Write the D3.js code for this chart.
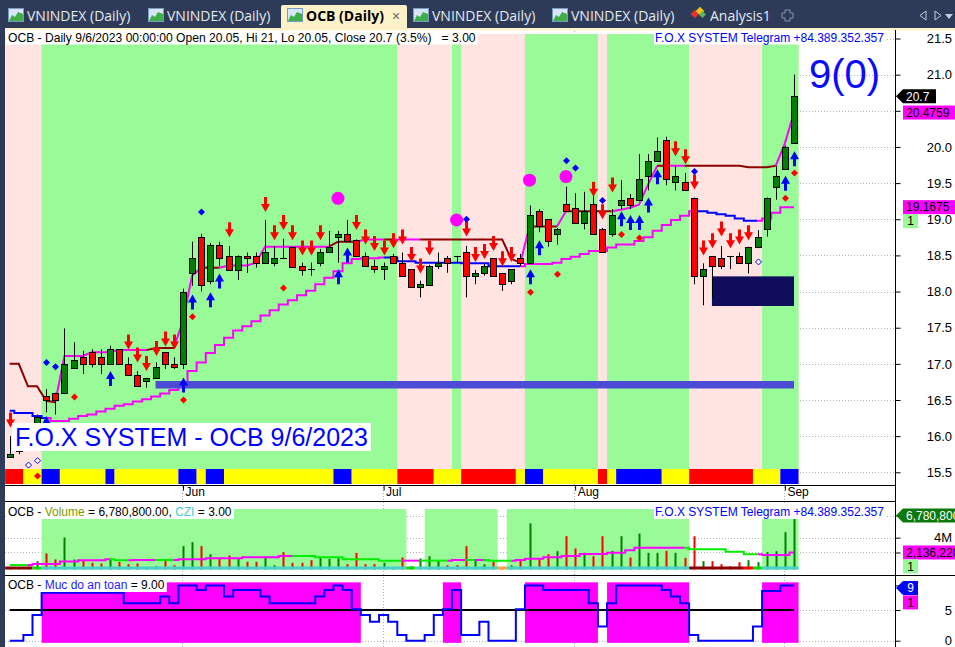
<!DOCTYPE html>
<html>
<head>
<meta charset="utf-8">
<title>OCB (Daily)</title>
<script src="https://cdn.jsdelivr.net/npm/d3@7"></script>
<style>
  body { margin: 0; background: #fff; overflow: hidden; }
  svg { display: block; font-family: Arial, "Liberation Sans", sans-serif; }
  .pre { white-space: pre; }
</style>
</head>
<body>
<svg id="chart" width="955" height="647"></svg>
<script>
// ---- data (one entry per trading day, May 4 .. Sep 6 2023) ----
var opens = [15.71,15.8,15.85,16.0,16.56,16.6,16.6,16.94,17.1,17.16,
  17.1,17.0,17.2,17.0,16.85,16.76,16.8,17.16,17.0,17.0,
  18.25,18.75,18.15,18.64,18.49,18.3,18.49,18.49,18.4,18.4,
  18.46,18.61,18.35,18.31,18.4,18.55,18.75,18.8,18.71,18.49,
  18.35,18.31,18.49,18.4,18.31,18.06,18.09,18.35,18.46,18.49,
  18.55,18.21,18.25,18.46,18.25,18.15,18.46,18.4,19.11,19.0,
  18.8,19.21,19.15,18.95,19.21,18.86,18.8,19.2,19.3,19.26,
  19.6,19.8,20.1,19.51,19.51,19.3,18.21,18.49,18.46,18.49,
  18.49,18.4,18.61,18.86,19.44,19.7,20.05];
var highs = [16.0,15.9,16.05,16.3,16.65,16.6,17.49,17.3,17.18,17.2,
  17.2,17.25,17.2,17.09,16.9,16.8,17.02,17.16,17.09,18.04,
  18.69,18.8,18.67,18.69,18.63,18.5,18.54,18.54,18.99,18.63,
  18.73,18.61,18.4,18.4,18.59,18.84,18.84,18.99,18.72,18.54,
  18.44,18.4,18.52,18.54,18.31,18.15,18.37,18.54,18.49,18.49,
  18.63,18.3,18.38,18.46,18.25,18.31,18.52,19.19,19.14,19.0,
  18.88,19.45,19.36,19.38,19.32,18.88,19.14,19.54,19.35,19.9,
  19.9,20.13,20.14,19.74,19.64,19.3,18.39,18.49,18.63,18.49,
  18.54,18.62,18.85,19.3,19.74,20.02,21.0];
var lows = [15.7,15.75,15.8,15.95,16.33,16.3,16.58,16.93,16.86,16.95,
  16.86,17.0,17.0,16.85,16.7,16.67,16.8,16.93,16.93,16.93,
  18.08,18.0,18.1,18.35,18.3,18.16,18.26,18.33,18.4,18.35,
  18.46,18.34,18.22,18.22,18.35,18.55,18.4,18.7,18.48,18.35,
  18.26,18.16,18.38,18.21,18.06,17.92,18.09,18.31,18.26,18.4,
  17.92,18.1,18.22,18.21,18.01,18.1,18.35,18.4,18.82,18.62,
  18.65,19.1,18.95,18.86,18.8,18.55,18.76,19.14,19.14,19.25,
  19.4,19.8,19.47,19.4,19.4,18.1,17.81,17.92,18.31,18.31,
  18.38,18.25,18.6,18.76,19.27,19.68,20.05];
var closes = [15.75,15.85,16.0,16.26,16.5,16.5,17.0,17.05,17.0,17.0,
  17.0,17.2,17.0,16.85,16.7,16.8,16.95,17.0,16.95,18.0,
  18.46,18.09,18.64,18.46,18.3,18.49,18.46,18.4,18.55,18.46,
  18.46,18.34,18.3,18.31,18.55,18.61,18.8,18.7,18.49,18.35,
  18.31,18.35,18.4,18.21,18.06,18.1,18.35,18.4,18.4,18.49,
  18.21,18.25,18.35,18.21,18.1,18.31,18.4,19.06,18.9,18.7,
  18.86,19.11,18.95,19.11,18.8,18.55,19.06,19.26,19.2,19.55,
  19.8,19.95,19.55,19.6,19.4,18.21,18.31,18.35,18.35,18.49,
  18.4,18.61,18.75,19.3,19.6,20.0,20.7];
// volume in millions of shares
var volumes = [0.3,0.3,0.35,1.05,2.01,1.26,4.02,1.26,1.17,0.84,
  0.75,1.26,0.96,0.67,0.75,0.33,0.42,1.30,0.54,2.93,
  3.43,2.93,1.92,1.51,1.76,1.42,0.96,0.96,1.67,0.54,
  2.18,0.84,0.84,1.17,1.59,1.34,1.42,0.67,2.09,0.67,
  0.67,0.84,0.21,1.51,0.42,1.38,1.67,1.17,0.54,0.54,
  2.93,1.17,0.67,0.96,0.25,0.54,1.26,5.79,1.38,1.92,
  2.30,4.18,2.64,2.09,1.67,4.18,2.34,4.18,1.51,4.52,
  2.09,2.09,2.34,2.09,1.46,4.18,1.05,1.05,0.67,0.42,
  0.92,1.17,0.92,2.18,2.30,4.69,6.7808];
var volMA = [0.56,0.56,0.56,0.7,0.7,0.7,1.0,1.0,1.15,1.15,
  1.15,1.28,1.15,1.15,1.19,1.19,1.19,1.19,1.19,1.28,
  1.28,1.28,1.40,1.40,1.40,1.40,1.53,1.53,1.53,1.53,
  1.69,1.69,1.69,1.69,1.53,1.53,1.53,1.28,1.28,1.28,
  1.28,1.11,1.11,1.11,1.11,1.11,1.11,1.11,1.11,1.19,
  1.19,1.19,1.19,1.11,1.11,1.11,1.19,1.36,1.36,1.53,
  1.53,1.69,1.69,1.95,1.95,1.95,2.11,2.11,2.41,2.74,
  2.74,2.74,2.74,2.74,2.74,2.53,2.53,2.53,2.53,2.24,
  2.24,1.9,1.9,1.82,1.82,1.82,2.13622];
var volMAState = "gggmmmmmmm mmggmmmggm mmmmmmmmmm mmgggggggg ggggmmgggm mgmgggmmmm mmmmmmmmmm mmmmmggggg gggmmmm".replace(/ /g, "").split("");
var upperLine = [17.0,17.0,16.69,16.69,16.49,16.47,17.11,17.11,17.11,17.16,
  17.16,17.16,17.19,17.19,17.19,17.19,17.22,17.22,17.22,17.6,
  18.22,18.33,18.33,18.33,18.36,18.36,18.36,18.40,18.62,18.62,
  18.62,18.62,18.62,18.62,18.62,18.62,18.69,18.69,18.69,18.72,
  18.72,18.72,18.72,18.72,18.72,18.72,18.72,18.72,18.72,18.72,
  18.72,18.72,18.72,18.72,18.72,18.45,18.40,18.90,18.90,18.90,
  18.90,19.11,19.11,19.11,19.11,19.11,19.11,19.13,19.16,19.2,
  19.48,19.74,19.74,19.74,19.74,19.74,19.74,19.74,19.74,19.74,
  19.74,19.72,19.72,19.72,19.74,20.05,20.4759];
var upperState = "rrrrrrmmmm mmmmmmrrrm mmrrmmmmmm mmmmmmrrrm mmrmmmrrrr rrrrrrrmrr rmrrrrrmmm mmrmmrrrrr rrrrrmm".replace(/ /g, "").split("");
var lowerLine = [16.35,16.32,16.32,16.28,16.25,16.21,16.21,16.24,16.28,16.30,
  16.34,16.38,16.42,16.44,16.48,16.51,16.55,16.59,16.64,16.72,
  16.90,17.02,17.15,17.26,17.36,17.46,17.52,17.59,17.67,17.74,
  17.82,17.88,17.95,18.01,18.10,18.19,18.28,18.39,18.45,18.46,
  18.46,18.47,18.47,18.42,18.42,18.40,18.40,18.40,18.40,18.40,
  18.39,18.39,18.39,18.35,18.35,18.35,18.35,18.38,18.38,18.38,
  18.40,18.45,18.48,18.52,18.56,18.56,18.61,18.65,18.65,18.70,
  18.75,18.84,18.92,18.99,19.05,19.11,19.11,19.09,19.07,19.05,
  19.01,18.98,18.98,19.01,19.09,19.1675,19.1675];
var lowerState = "bbbbbmmmmm mmmmmmmmmm mmmmmmmmmm mmmmmmmmmm mmbbbbbbbb bbbbbbbmmm mmmmmmmmmm mmmmmmbbbb bbbmmmm".replace(/ /g, "").split("");
var safety = [0,0,0.93,4.2,7.8,7.8,7.8,7.8,7.8,7.8,
  7.8,7.8,7.8,6.1,6.1,6.1,6.1,7.2,6.1,9,
  9,8.26,9,9,7.2,8.26,8.26,8.26,7.2,6.1,
  6.1,6.1,6.1,6.1,7.2,8.26,9,8.26,5.1,4.2,
  3.1,4.2,3.1,0.93,0,0,0.93,4.2,5.1,8.26,
  0.93,0.93,3.1,0,0,0,5.1,9,9,8.26,
  8.26,8.26,8.26,8.26,6.1,2.3,6.1,9,9,9,
  9,9,8.26,7.2,6.1,0.93,0,0,0,0,
  0,0,2.3,8.1,8.1,9,9];

// zones: [first bar, last bar]
var priceGreenZones = [[4, 42], [49, 49], [57, 64], [66, 74], [83, 86]];
var volGreenZones = [[4, 43], [46, 53], [55, 74], [83, 86]];
var safeZones = [[4, 38], [48, 49], [57, 64], [66, 74], [83, 86]];
var signalRuns = [[0,1,"r"],[2,3,"y"],[4,5,"b"],[6,10,"y"],[11,11,"b"],[12,18,"y"],[19,20,"b"],
  [21,21,"y"],[22,23,"b"],[24,35,"y"],[36,37,"b"],[38,42,"y"],[43,46,"r"],[47,49,"y"],[50,55,"r"],
  [56,56,"y"],[57,58,"b"],[59,64,"y"],[65,65,"r"],[66,66,"y"],[67,71,"b"],[72,74,"y"],[75,81,"r"],
  [82,84,"y"],[85,86,"b"]];
var volBaseRuns = [[0,2,"d"],[3,3,"g"],[4,43,"c"],[44,44,"g"],[45,53,"c"],[54,54,"o"],[55,74,"c"],
  [75,80,"d"],[81,81,"r"],[82,82,"g"],[83,86,"c"]];

// signals: [bar, price]
var sellArrows = [[0,16.12],[13,17.20],[14,17.02],[15,16.90],[16,17.11],[17,17.24],[18,17.20],[24,18.75],
  [28,19.10],[29,18.71],[30,18.85],[31,18.71],[32,18.50],[33,18.50],[34,18.71],[38,18.85],[39,18.65],
  [40,18.56],[41,18.50],[42,18.60],[43,18.65],[44,18.41],[45,18.25],[46,18.50],[50,18.76],[51,18.41],
  [52,18.45],[53,18.56],[54,18.35],[55,18.41],[64,19.31],[65,19.0],[66,19.37],[73,19.87],[74,19.76],
  [75,19.41],[76,18.50],[77,18.60],[78,18.76],[79,18.60],[80,18.65],[81,18.71]];
var buyArrows = [[4,16.28],[11,16.90],[19,16.81],[20,17.96],[22,17.99],[23,18.25],[36,18.31],[37,18.61],
  [57,18.31],[58,18.71],[67,19.11],[68,19.06],[69,19.06],[70,19.30],[71,19.69],[85,19.60],[86,19.94]];
var redDots = [[3,15.45],[7,16.54],[19,16.50],[20,17.65],[30,18.05],[57,17.99],[60,18.24],[67,18.79],
  [69,18.74],[85,19.29],[86,19.64]];
var blueDots = [[4,17.02],[5,16.96],[21,19.10],[50,19.0],[61,19.81],[62,19.71],[65,19.26],[75,19.66]];
var hollowDots = [[2,15.60],[3,15.66],[82,18.41]];
var bigDots = [[36,19.29],[49,18.99],[57,19.54],[61,19.59]];
var supportBars = [16, 86], supportPrice = 16.71;
var boxBars = [77, 86], boxPrices = [17.80, 18.21];

var priceTicks = [15.5,16.0,16.5,17.0,17.5,18.0,18.5,19.0,19.5,20.0,20.5,21.0,21.5];
var volTicks = [2.13622, 4, 6.7808];
var safeTicks = [0, 5, 9];
var monthLabels = ["Jun", "Jul", "Aug", "Sep"];
var monthBars = [19, 41, 62, 85];
var tabNames = ["VNINDEX (Daily)", "VNINDEX (Daily)", "OCB (Daily)", "VNINDEX (Daily)", "VNINDEX (Daily)", "Analysis1"];
var activeTab = 2;

// ---- drawing ----
var svg = d3.select("#chart");
var W = 955, H = 647, axisX = 895.5;
var x = d3.scaleLinear().domain([0, 86]).range([9.7, 794]);
var hw = (x(1) - x(0)) / 2;
var y = d3.scaleLinear().domain([15.5, 21.5]).range([472.3, 38.5]);
var yv = d3.scaleLinear().domain([0, 6.7808]).range([569.5, 515.5]);
var ys = d3.scaleLinear().domain([0, 9]).range([640.7, 585.4]);

var pink = "#ffe4e1", green = "#98fb98", magenta = "#ff00ff", blue = "#0000ff";
var stateColor = { r: "#ff0000", y: "#ffff00", b: "#0000ff", m: magenta, g: "#00e000",
  d: "#8b0000", c: "#48d1cc", o: "#ffa040" };

svg.append("rect").attr("width", W).attr("height", H).attr("fill", "#fff");

// tab bar
svg.append("rect").attr("width", W).attr("height", 28).attr("fill", "#2d3b58");
svg.append("rect").attr("y", 28).attr("width", W).attr("height", 2.5).attr("fill", "#fdf1c8");
svg.append("rect").attr("y", 28).attr("width", 5).attr("height", H - 28).attr("fill", "#2d3b58");
var tabIconX = [8, 148, 287, 413, 552, 691];
svg.append("rect").attr("x", 281).attr("y", 5).attr("width", 126).attr("height", 25)
  .attr("rx", 2).attr("fill", "#fdf1c8");
tabNames.forEach(function (name, i) {
  var ix = tabIconX[i];
  if (name === "Analysis1") {
    svg.append("rect").attr("x", ix + 1).attr("y", 11).attr("width", 6).attr("height", 6)
      .attr("transform", "rotate(45," + (ix + 4) + ",14)").attr("fill", "#e8322d");
    svg.append("rect").attr("x", ix + 6).attr("y", 8).attr("width", 6).attr("height", 6)
      .attr("transform", "rotate(45," + (ix + 9) + ",11)").attr("fill", "#f5c518");
    svg.append("rect").attr("x", ix + 9).attr("y", 12).attr("width", 5).attr("height", 5)
      .attr("transform", "rotate(45," + (ix + 11.5) + ",14.5)").attr("fill", "#5cb85c");
  } else {
    svg.append("rect").attr("x", ix + 0.5).attr("y", 8.5).attr("width", 15).attr("height", 13)
      .attr("fill", "#d7e6f6").attr("stroke", "#7b9bc7");
    svg.append("path").attr("d", "M" + (ix + 1) + ",21 L" + (ix + 4) + ",15 L" + (ix + 7) + ",17 L" +
      (ix + 10) + ",12 L" + (ix + 15) + ",14 L" + (ix + 15) + ",21 Z").attr("fill", "#3fae49");
  }
  svg.append("text").attr("x", ix + 19).attr("y", 21)
    .attr("font-family", "'Open Sans', 'Noto Sans', sans-serif").attr("font-size", 14)
    .attr("font-weight", i === activeTab ? "bold" : "normal")
    .attr("fill", i === activeTab ? "#000" : "#e4e9f0").text(name);
});
svg.append("text").attr("x", 392).attr("y", 21).attr("font-size", 14).attr("fill", "#666").text("\u00d7");
svg.append("path").attr("d", "M785,10 h5 v3 h3 v5 h-3 v3 h-5 v-3 h-3 v-5 h3 Z")
  .attr("fill", "none").attr("stroke", "#8a93a6");
svg.append("path").attr("d", "M926,11 L920,15.5 L926,20 Z").attr("fill", "none").attr("stroke", "#c8cdd8");
svg.append("path").attr("d", "M935,11 L941,15.5 L935,20 Z").attr("fill", "none").attr("stroke", "#c8cdd8");
svg.append("path").attr("d", "M945,14 L953,14 L949,19 Z").attr("fill", "#c8cdd8");

function spanX(r) { return x(r[0]) - hw; }
function spanW(r) { return x(r[1]) - x(r[0]) + 2 * hw; }

// grid lines
var grid = svg.append("g").attr("stroke", "#b4b4b4").attr("stroke-dasharray", "1,2");
grid.selectAll(".hg").data(priceTicks).enter().append("line")
  .attr("x1", 5).attr("x2", axisX).attr("y1", d => Math.round(y(d)) + 0.5).attr("y2", d => Math.round(y(d)) + 0.5);
grid.selectAll(".vg").data(volTicks).enter().append("line")
  .attr("x1", 5).attr("x2", axisX).attr("y1", d => Math.round(yv(d)) + 0.5).attr("y2", d => Math.round(yv(d)) + 0.5);
grid.selectAll(".sg").data([0, 5]).enter().append("line")
  .attr("x1", 5).attr("x2", axisX).attr("y1", d => Math.round(ys(d)) + 0.5).attr("y2", d => Math.round(ys(d)) + 0.5);
grid.selectAll(".mg").data(monthBars).enter().append("line")
  .attr("x1", d => Math.round(x(d)) - 0.5).attr("x2", d => Math.round(x(d)) - 0.5).attr("y1", 31).attr("y2", H);

// ---------- price panel ----------
var pg = svg.append("g");
pg.append("rect").attr("x", x(0) - hw).attr("y", 34).attr("width", x(86) - x(0) + 2 * hw).attr("height", 435).attr("fill", pink);
pg.selectAll(".zone").data(priceGreenZones).enter().append("rect")
  .attr("x", spanX).attr("width", spanW).attr("y", 34).attr("height", 435).attr("fill", green);
pg.selectAll(".sig").data(signalRuns).enter().append("rect")
  .attr("x", spanX).attr("width", spanW).attr("y", 469).attr("height", 15).attr("fill", d => stateColor[d[2]]);

function coloredLine(g, values, states, colors, sy, curve, width) {
  var line = d3.line().x(d => x(d[0])).y(d => sy(d[1])).curve(curve);
  var i = 1;
  while (i < values.length) {
    var s = states[i], pts = [[i - 1, values[i - 1]]];
    while (i < values.length && states[i] === s) { pts.push([i, values[i]]); i++; }
    g.append("path").attr("d", line(pts)).attr("fill", "none")
      .attr("stroke", colors[s]).attr("stroke-width", width);
  }
}
coloredLine(pg, lowerLine, lowerState, { b: blue, m: magenta }, y, d3.curveStep, 2);
coloredLine(pg, upperLine, upperState, { r: "#8b0000", m: magenta }, y, d3.curveLinear, 2);

pg.append("rect").attr("x", x(boxBars[0])).attr("width", x(boxBars[1]) - x(boxBars[0]))
  .attr("y", y(boxPrices[1])).attr("height", y(boxPrices[0]) - y(boxPrices[1])).attr("fill", "#100e5c");
pg.append("line").attr("x1", x(supportBars[0])).attr("x2", x(supportBars[1]))
  .attr("y1", y(supportPrice)).attr("y2", y(supportPrice)).attr("stroke", "#4b4bd6").attr("stroke-width", 7.5);

// candles
var candles = opens.map((o, i) => ({ i: i, o: o, h: highs[i], l: lows[i], c: closes[i] }));
var cg = pg.append("g");
cg.selectAll(".wick").data(candles).enter().append("line")
  .attr("x1", d => Math.round(x(d.i)) + 0.5).attr("x2", d => Math.round(x(d.i)) + 0.5)
  .attr("y1", d => y(d.h)).attr("y2", d => y(d.l)).attr("stroke", "#000");
cg.selectAll(".body").data(candles.filter(d => d.o !== d.c)).enter().append("rect")
  .attr("x", d => Math.round(x(d.i)) - 2.5).attr("width", 6)
  .attr("y", d => Math.round(y(Math.max(d.o, d.c))) + 0.5)
  .attr("height", d => Math.max(1, Math.round(y(Math.min(d.o, d.c))) - Math.round(y(Math.max(d.o, d.c)))))
  .attr("fill", d => d.c > d.o ? "#008000" : "#ff0000").attr("stroke", "#000");
cg.selectAll(".doji").data(candles.filter(d => d.o === d.c)).enter().append("line")
  .attr("x1", d => Math.round(x(d.i)) - 3).attr("x2", d => Math.round(x(d.i)) + 4)
  .attr("y1", d => Math.round(y(d.o)) + 0.5).attr("y2", d => Math.round(y(d.o)) + 0.5).attr("stroke", "#000");

// markers
var downArrow = "M-1.5,-15 L1.5,-15 L1.5,-8 L4.5,-8 L0,0 L-4.5,-8 L-1.5,-8 Z";
var upArrow = "M-1.5,15 L1.5,15 L1.5,8 L4.5,8 L0,0 L-4.5,8 L-1.5,8 Z";
var diamond = "M0,-3.5 L3.5,0 L0,3.5 L-3.5,0 Z";
function place(d) { return "translate(" + (Math.round(x(d[0])) + 0.5) + "," + y(d[1]) + ")"; }
pg.selectAll(".sell").data(sellArrows).enter().append("path").attr("d", downArrow)
  .attr("transform", place).attr("fill", "#ff0000");
pg.selectAll(".buy").data(buyArrows).enter().append("path").attr("d", upArrow)
  .attr("transform", place).attr("fill", blue);
pg.selectAll(".rdot").data(redDots).enter().append("path").attr("d", diamond)
  .attr("transform", place).attr("fill", "#ff0000");
pg.selectAll(".bdot").data(blueDots).enter().append("path").attr("d", diamond)
  .attr("transform", place).attr("fill", blue);
pg.selectAll(".hdot").data(hollowDots).enter().append("path").attr("d", "M0,-3 L3,0 L0,3 L-3,0 Z")
  .attr("transform", place).attr("fill", "#fff").attr("stroke", blue);
pg.selectAll(".big").data(bigDots).enter().append("circle")
  .attr("cx", d => x(d[0])).attr("cy", d => y(d[1])).attr("r", 6.5).attr("fill", magenta);

function labelBox(g, x0, yb, size, parts, pad) {
  var grp = g.append("g");
  var bg = grp.append("rect").attr("fill", "#fff");
  var t = grp.append("text").attr("class", "pre").attr("x", x0).attr("y", yb).attr("font-size", size);
  parts.forEach(p => t.append("tspan").attr("fill", p[1]).text(p[0]));
  var bb = t.node().getBBox();
  bg.attr("x", bb.x - pad).attr("y", bb.y).attr("width", bb.width + 2 * pad).attr("height", bb.height);
}
labelBox(pg, 15, 446, 25, [["F.O.X SYSTEM - OCB 9/6/2023", blue]], 3);
labelBox(pg, 8, 41.5, 12.1, [["OCB - Daily 9/6/2023 00:00:00 Open 20.05, Hi 21, Lo 20.05, Close 20.7 (3.5%)   = 3.00", "#000"]], 2);
labelBox(pg, 655, 41.5, 12, [["F.O.X SYSTEM Telegram +84.389.352.357", blue]], 1);
pg.append("text").attr("x", 809).attr("y", 88).attr("font-size", 40).attr("fill", "#0a0aff").text("9(0)");

// ---------- volume panel ----------
var vg = svg.append("g");
vg.selectAll(".zone").data(volGreenZones).enter().append("rect")
  .attr("x", spanX).attr("width", spanW).attr("y", 509).attr("height", 60.5).attr("fill", green);
vg.selectAll(".vol").data(volumes).enter().append("line")
  .attr("x1", (d, i) => Math.round(x(i)) + 0.5).attr("x2", (d, i) => Math.round(x(i)) + 0.5)
  .attr("y1", yv(0)).attr("y2", d => yv(d)).attr("stroke-width", 2)
  .attr("stroke", (d, i) => closes[i] > opens[i] ? "#008000" : "#ff0000");
vg.selectAll(".vbase").data(volBaseRuns).enter().append("rect")
  .attr("x", spanX).attr("width", spanW).attr("y", 566.5).attr("height", 3).attr("fill", d => stateColor[d[2]]);
coloredLine(vg, volMA, volMAState, { g: "#00ee00", m: magenta }, yv, d3.curveStep, 2);
labelBox(vg, 8, 516, 12, [["OCB - ", "#000"], ["Volume", "#7f9a00"], [" = 6,780,800.00, ", "#000"], ["CZI", "#48c8d0"], [" = 3.00", "#000"]], 2);
labelBox(vg, 655, 516, 12, [["F.O.X SYSTEM Telegram +84.389.352.357", blue]], 1);

// ---------- safety panel ----------
var sg = svg.append("g");
sg.selectAll(".zone").data(safeZones).enter().append("rect")
  .attr("x", spanX).attr("width", spanW).attr("y", ys(9.5)).attr("height", ys(-0.35) - ys(9.5)).attr("fill", magenta);
sg.append("line").attr("x1", x(0)).attr("x2", x(86)).attr("y1", ys(5)).attr("y2", ys(5))
  .attr("stroke", "#000").attr("stroke-width", 2);
coloredLine(sg, safety, safety.map(() => "b"), { b: blue }, ys, d3.curveStep, 2);
labelBox(sg, 8, 589, 12, [["OCB - ", "#000"], ["Muc do an toan", "#1c1cff"], [" = 9.00", "#000"]], 2);

// ---------- axes and frame ----------
var frame = svg.append("g").attr("stroke", "#000");
frame.append("line").attr("x1", axisX).attr("x2", axisX).attr("y1", 30).attr("y2", H);
frame.append("line").attr("x1", 5).attr("x2", axisX).attr("y1", 485.5).attr("y2", 485.5);
frame.append("line").attr("x1", 5).attr("x2", axisX).attr("y1", 501.5).attr("y2", 501.5);
frame.append("line").attr("x1", 5).attr("x2", W).attr("y1", 575.5).attr("y2", 575.5);

function styleAxis(g) {
  g.select(".domain").remove();
  g.selectAll(".tick text").attr("text-anchor", "end").attr("x", 952 - axisX)
    .attr("font-size", 13).attr("font-family", "Arial, 'Liberation Sans', sans-serif").attr("fill", "#000");
}
// 20.5 sits under the value tag of the upper line, as in the original
svg.append("g").attr("transform", "translate(" + axisX + ",0)")
  .call(d3.axisRight(y).tickValues(priceTicks).tickSize(5).tickFormat(d => d === 20.5 ? "" : d3.format(".1f")(d))).call(styleAxis);
svg.append("g").attr("transform", "translate(" + axisX + ",0)")
  .call(d3.axisRight(yv).tickValues(volTicks).tickSize(5).tickFormat(d => d === 4 ? "4M" : "")).call(styleAxis);
svg.append("g").attr("transform", "translate(" + axisX + ",0)")
  .call(d3.axisRight(ys).tickValues(safeTicks).tickSize(5).tickFormat(d => d === 9 ? "" : d)).call(styleAxis);

var xa = svg.append("g").attr("transform", "translate(0,485.5)")
  .call(d3.axisBottom(x).tickValues(monthBars).tickSize(5).tickFormat((d, i) => monthLabels[i]));
xa.select(".domain").remove();
xa.selectAll(".tick text").attr("text-anchor", "start").attr("x", 2).attr("y", 2)
  .attr("font-size", 12).attr("font-family", "Arial, 'Liberation Sans', sans-serif");

// value tags
function tag(yc, label, fill, color, pointer, w) {
  var g = svg.append("g");
  var x0 = 903, h = 14;
  if (pointer) {
    g.append("path").attr("d", "M" + (axisX + 0.5) + "," + yc + " L" + x0 + "," + (yc - h / 2) + " L" + (x0 + w) + "," +
      (yc - h / 2) + " L" + (x0 + w) + "," + (yc + h / 2) + " L" + x0 + "," + (yc + h / 2) + " Z").attr("fill", fill);
  } else {
    g.append("rect").attr("x", x0).attr("y", yc - h / 2).attr("width", w).attr("height", h).attr("fill", fill);
  }
  g.append("text").attr("x", x0 + (w < 20 ? w / 2 : 3)).attr("text-anchor", w < 20 ? "middle" : "start")
    .attr("y", yc).attr("dy", "0.35em").attr("font-size", 12).attr("fill", color).text(label);
}
tag(y(closes[86]), "20.7", "#000", "#fff", true, 33);
tag(y(upperLine[86]), "20.4759", magenta, "#000", false, 52);
tag(y(lowerLine[86]), "19.1675", magenta, "#000", false, 52);
tag(y(lowerLine[86]) + 14, "1", green, "#000", false, 15);
tag(yv(volumes[86]), "6,780,800", "#0b7a0b", "#fff", true, 52);
tag(yv(volMA[86]), "2,136,220", magenta, "#000", false, 52);
tag(yv(volMA[86]) + 14, "1", green, "#000", false, 15);
tag(ys(9) + 2.5, "9", blue, "#fff", true, 15);
tag(ys(9) + 17, "1", magenta, "#000", false, 15);
</script>
</body>
</html>
